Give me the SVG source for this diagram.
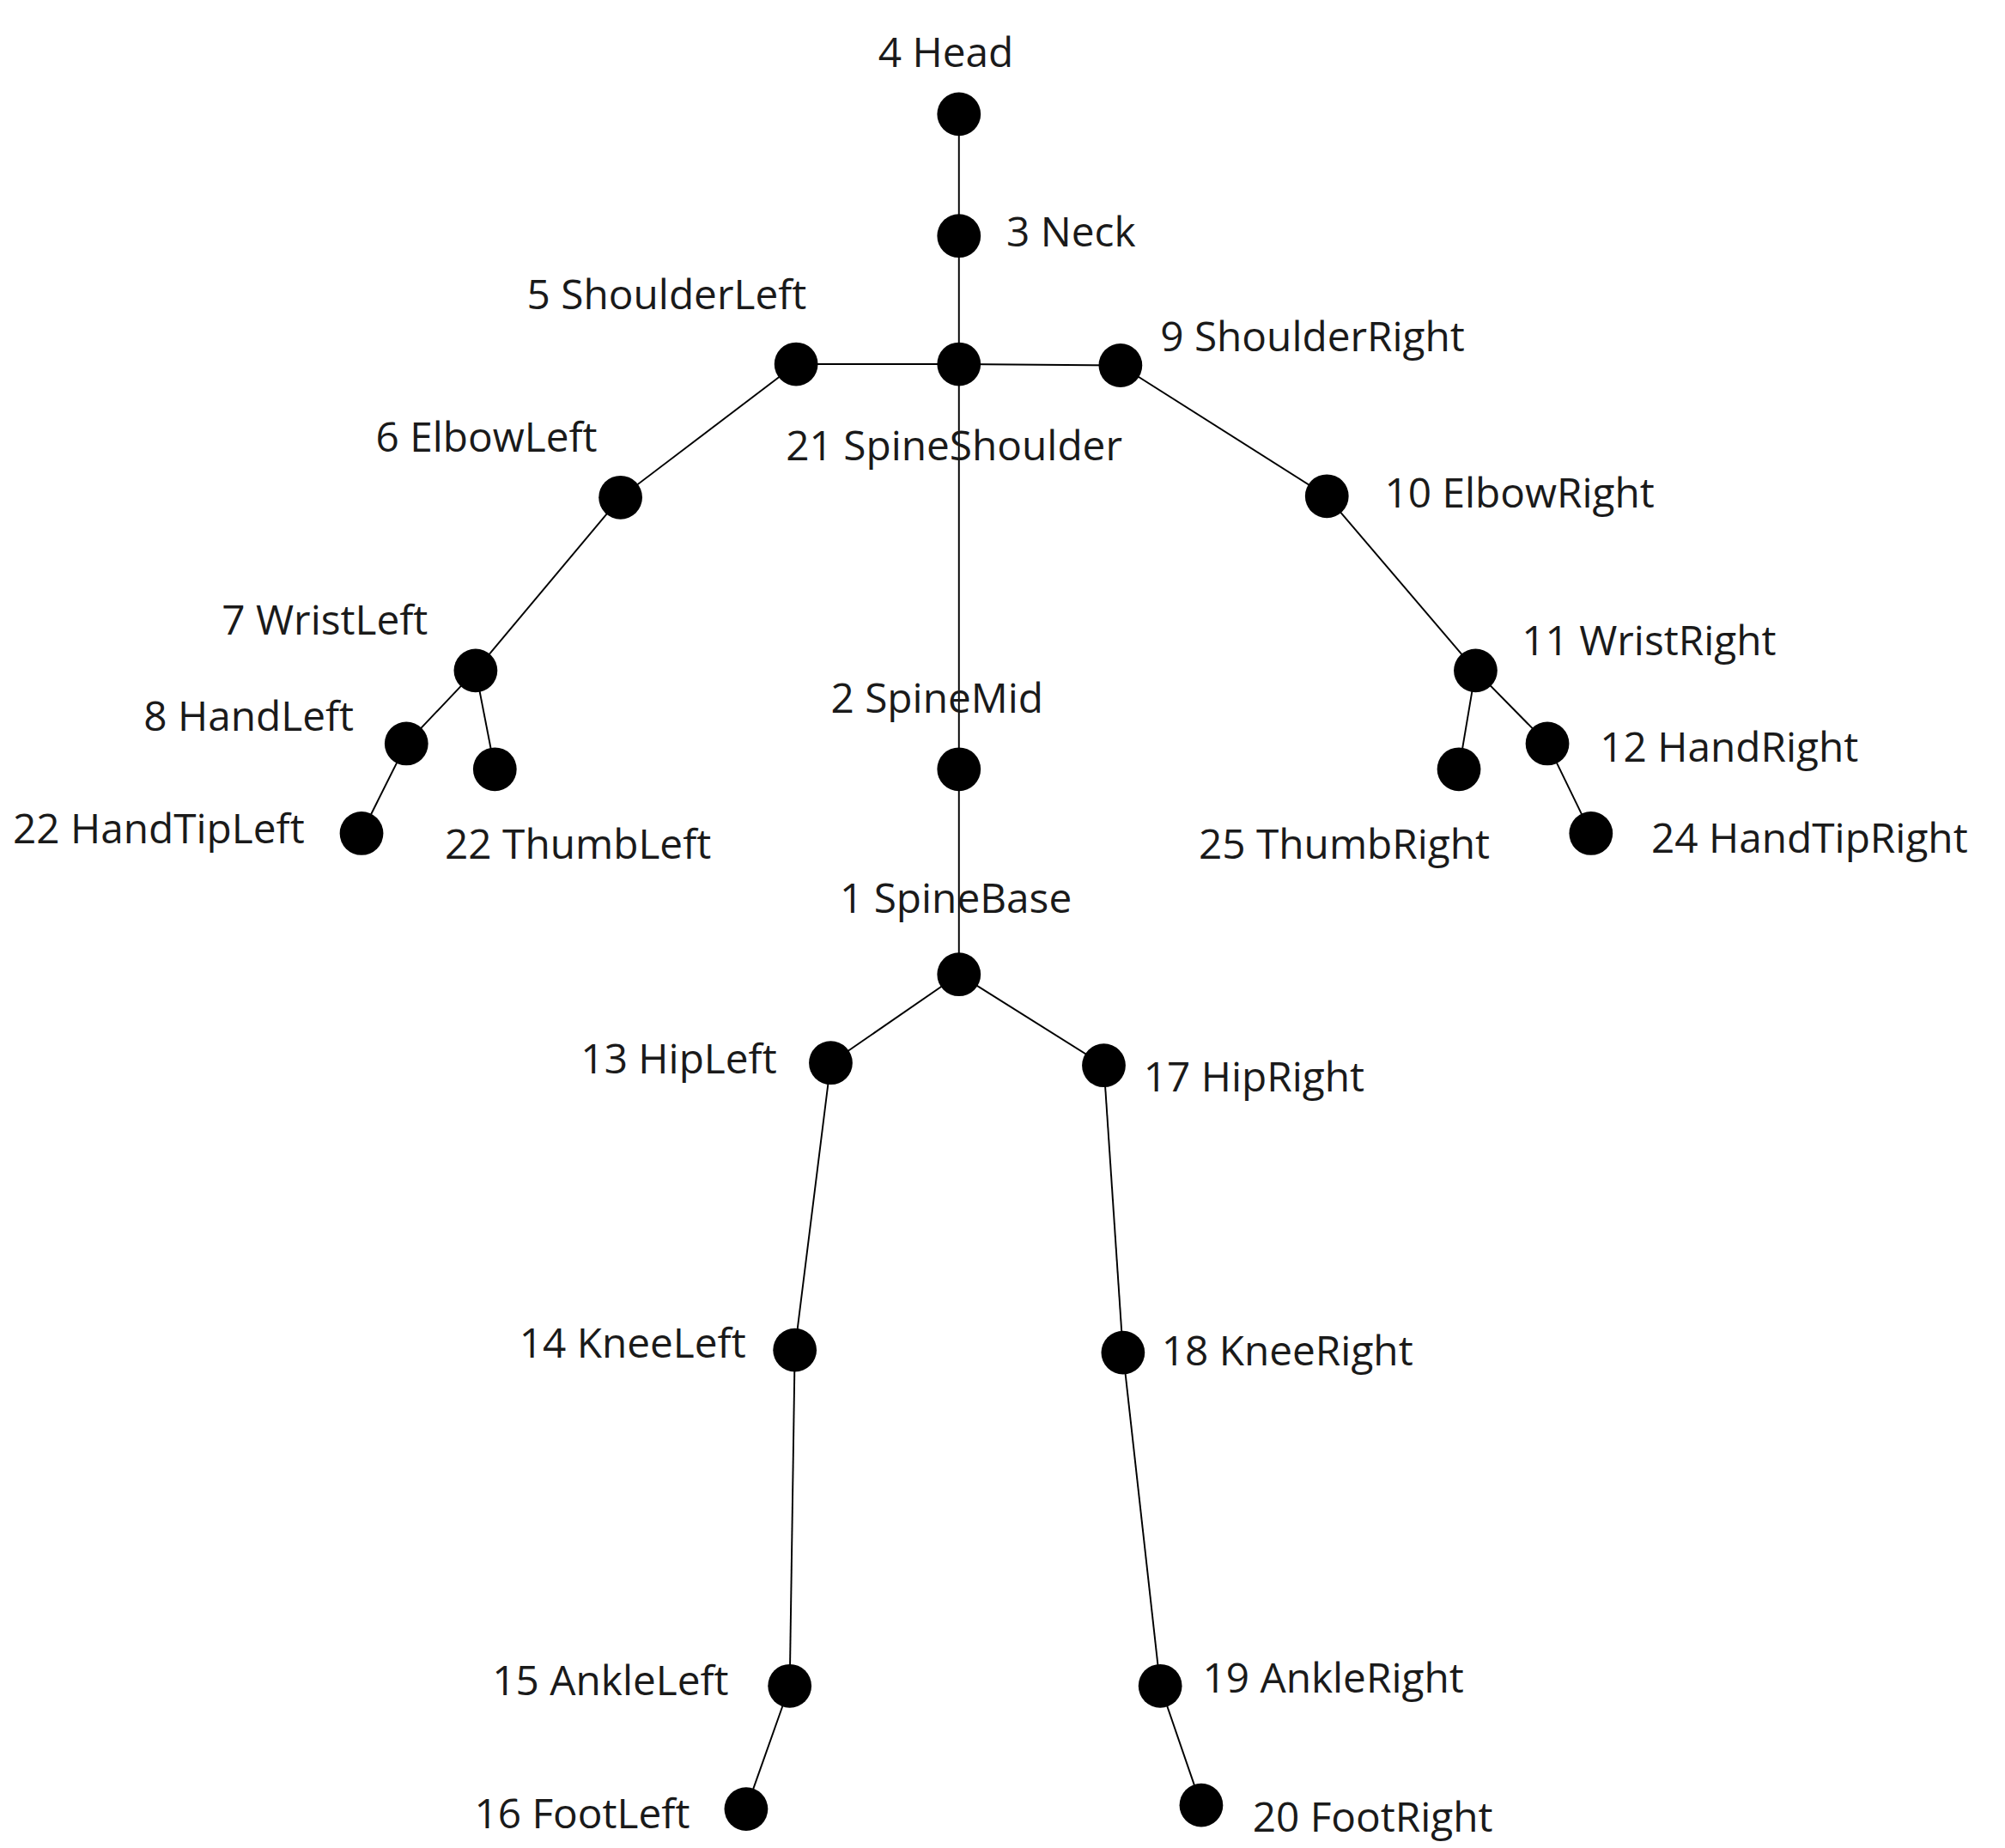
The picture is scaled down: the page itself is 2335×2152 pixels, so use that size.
<svg xmlns="http://www.w3.org/2000/svg" width="2335" height="2152" viewBox="0 0 2335 2152">
<style>
.n{fill:#000}
.e line{stroke:#000;stroke-width:1.3}
text{font-family:"Open Sans","Noto Sans",sans-serif;font-size:32px;fill:#1a1a1a}
</style>
<rect width="2335" height="2152" fill="#fff"/>
<g transform="scale(1.493)">
<g id="connectors" class="e">
<line x1="748" y1="89" x2="748" y2="184"/>
<line x1="748" y1="184" x2="748" y2="284"/>
<line x1="748" y1="284" x2="621" y2="284"/>
<line x1="748" y1="284" x2="874" y2="285"/>
<line x1="748" y1="284" x2="748" y2="600"/>
<line x1="748" y1="600" x2="748" y2="760"/>
<line x1="621" y1="284" x2="484" y2="388"/>
<line x1="484" y1="388" x2="371" y2="523"/>
<line x1="371" y1="523" x2="317" y2="580"/>
<line x1="371" y1="523" x2="386" y2="600"/>
<line x1="317" y1="580" x2="282" y2="650"/>
<line x1="874" y1="285" x2="1035" y2="387"/>
<line x1="1035" y1="387" x2="1151" y2="523"/>
<line x1="1151" y1="523" x2="1138" y2="600"/>
<line x1="1151" y1="523" x2="1207" y2="580"/>
<line x1="1207" y1="580" x2="1241" y2="650"/>
<line x1="748" y1="760" x2="648" y2="829"/>
<line x1="748" y1="760" x2="861" y2="831"/>
<line x1="648" y1="829" x2="620" y2="1053"/>
<line x1="620" y1="1053" x2="616" y2="1315"/>
<line x1="616" y1="1315" x2="582" y2="1411"/>
<line x1="861" y1="831" x2="876" y2="1055"/>
<line x1="876" y1="1055" x2="905" y2="1315"/>
<line x1="905" y1="1315" x2="937" y2="1408"/>
</g>
<g id="head"><circle class="n" cx="748" cy="89" r="17"/><text x="685" y="52">4 Head</text></g>
<g id="neck"><circle class="n" cx="748" cy="184" r="17"/><text x="785" y="192">3 Neck</text></g>
<g id="spineShoulder"><circle class="n" cx="748" cy="284" r="17"/><text x="613" y="359">21 SpineShoulder</text></g>
<g id="shoulderLeft"><circle class="n" cx="621" cy="284" r="17"/><text x="411" y="241">5 ShoulderLeft</text></g>
<g id="shoulderRight"><circle class="n" cx="874" cy="285" r="17"/><text x="905" y="274">9 ShoulderRight</text></g>
<g id="elbowLeft"><circle class="n" cx="484" cy="388" r="17"/><text x="293" y="352">6 ElbowLeft</text></g>
<g id="elbowRight"><circle class="n" cx="1035" cy="387" r="17"/><text x="1080" y="396">10 ElbowRight</text></g>
<g id="wristLeft"><circle class="n" cx="371" cy="523" r="17"/><text x="173" y="495">7 WristLeft</text></g>
<g id="wristRight"><circle class="n" cx="1151" cy="523" r="17"/><text x="1187" y="511">11 WristRight</text></g>
<g id="handLeft"><circle class="n" cx="317" cy="580" r="17"/><text x="112" y="570">8 HandLeft</text></g>
<g id="thumbLeft"><circle class="n" cx="386" cy="600" r="17"/><text x="347" y="670">22 ThumbLeft</text></g>
<g id="handTipLeft"><circle class="n" cx="282" cy="650" r="17"/><text x="10" y="658">22 HandTipLeft</text></g>
<g id="handRight"><circle class="n" cx="1207" cy="580" r="17"/><text x="1248" y="594">12 HandRight</text></g>
<g id="thumbRight"><circle class="n" cx="1138" cy="600" r="17"/><text x="935" y="670">25 ThumbRight</text></g>
<g id="handTipRight"><circle class="n" cx="1241" cy="650" r="17"/><text x="1288" y="665">24 HandTipRight</text></g>
<g id="spineMid"><circle class="n" cx="748" cy="600" r="17"/><text x="648" y="556">2 SpineMid</text></g>
<g id="spineBase"><circle class="n" cx="748" cy="760" r="17"/><text x="655" y="712">1 SpineBase</text></g>
<g id="hipLeft"><circle class="n" cx="648" cy="829" r="17"/><text x="453" y="837">13 HipLeft</text></g>
<g id="hipRight"><circle class="n" cx="861" cy="831" r="17"/><text x="892" y="851">17 HipRight</text></g>
<g id="kneeLeft"><circle class="n" cx="620" cy="1053" r="17"/><text x="405" y="1059">14 KneeLeft</text></g>
<g id="kneeRight"><circle class="n" cx="876" cy="1055" r="17"/><text x="906" y="1065">18 KneeRight</text></g>
<g id="ankleLeft"><circle class="n" cx="616" cy="1315" r="17"/><text x="384" y="1322">15 AnkleLeft</text></g>
<g id="ankleRight"><circle class="n" cx="905" cy="1315" r="17"/><text x="938" y="1320">19 AnkleRight</text></g>
<g id="footLeft"><circle class="n" cx="582" cy="1411" r="17"/><text x="370" y="1426">16 FootLeft</text></g>
<g id="footRight"><circle class="n" cx="937" cy="1408" r="17"/><text x="977" y="1429">20 FootRight</text></g>
</g>
</svg>
